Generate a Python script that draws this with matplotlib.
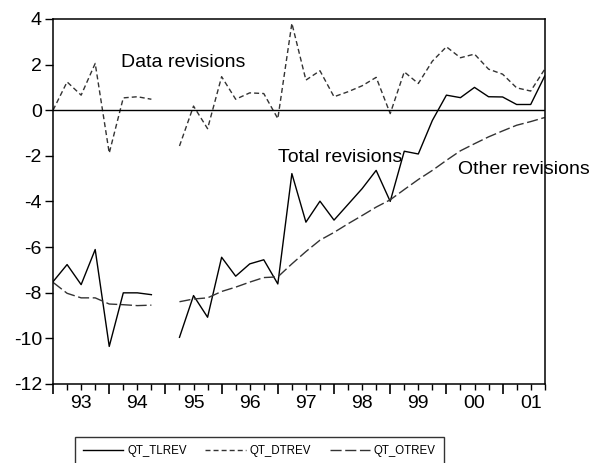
import numpy as np
import matplotlib
matplotlib.use('Agg')
import matplotlib.pyplot as plt

plt.rcParams['font.family'] = ['Liberation Sans', 'DejaVu Sans']
plt.rcParams['axes.unicode_minus'] = False

# quarterly data 1993Q1 - 2001Q4 (1995Q1 missing)
years = ['93', '94', '95', '96', '97', '98', '99', '00', '01']
nan = np.nan
qt_tlrev = [-7.52, -6.77, -7.65, -6.11, -10.36, -8.01, -8.01, -8.09, nan,
            -9.96, -8.13, -9.08, -6.45, -7.28, -6.74, -6.56, -7.62, -2.78,
            -4.91, -3.99, -4.82, -4.13, -3.44, -2.64, -4.00, -1.80, -1.92,
            -0.45, 0.66, 0.55, 1.00, 0.59, 0.58, 0.25, 0.25, 1.50]
qt_dtrev = [0.00, 1.24, 0.66, 2.05, -1.88, 0.54, 0.59, 0.48, nan,
            -1.57, 0.18, -0.81, 1.47, 0.48, 0.76, 0.73, -0.37, 3.81,
            1.32, 1.73, 0.59, 0.81, 1.07, 1.44, -0.15, 1.68, 1.17,
            2.15, 2.78, 2.30, 2.46, 1.80, 1.58, 0.98, 0.84, 1.80]
qt_otrev = [-7.55, -8.03, -8.23, -8.23, -8.50, -8.53, -8.57, -8.55, nan,
            -8.40, -8.28, -8.23, -7.95, -7.76, -7.54, -7.34, -7.31, -6.74,
            -6.20, -5.70, -5.36, -4.98, -4.62, -4.25, -3.93, -3.48, -3.04,
            -2.64, -2.20, -1.78, -1.47, -1.17, -0.91, -0.66, -0.50, -0.32]

x = np.arange(len(qt_tlrev))

fig = plt.figure(figsize=(5.96, 4.63), dpi=100)
ax = fig.add_axes([0.089, 0.171, 0.825, 0.788])

ax.plot(x, qt_tlrev, color='black', lw=1.0, label='QT_TLREV')
ax.plot(x, qt_dtrev, color='#333333', lw=1.0, dashes=(3.6, 2.2), label='QT_DTREV')
ax.plot(x, qt_otrev, color='#333333', lw=1.0, dashes=(8, 2.6), label='QT_OTREV')
ax.axhline(0, color='black', lw=1.0)

ax.set_xlim(0, len(x) - 1)
ax.set_ylim(-12, 4)
ax.set_yticks(np.arange(-12, 5, 2))

# year boundaries as major ticks, quarters as minor ticks, labels mid-year
ax.set_xticks(np.arange(0, len(x), 4), labels=[''] * len(range(0, len(x), 4)))
qlabels = ['' for _ in x]
for i, y in enumerate(years):
    qlabels[4 * i + 2] = y
ax.set_xticks(x, labels=qlabels, minor=True)
ax.tick_params(axis='x', which='major', direction='out', length=7, width=1.2)
ax.tick_params(axis='x', which='minor', direction='out', length=4, width=1.0,
               labelsize=14, pad=4)
ax.tick_params(axis='y', direction='out', length=6, width=1.0, labelsize=14, pad=2)
for s in ax.spines.values():
    s.set_linewidth(1.1)

ax.text(4.86, 2.1, 'Data revisions', fontsize=14, va='center', ha='left')
ax.text(16.0, -2.07, 'Total revisions', fontsize=14, va='center', ha='left')
ax.text(28.86, -2.6, 'Other revisions', fontsize=14, va='center', ha='left')

leg = fig.legend(loc='upper left', bbox_to_anchor=(75 / 596, 1 - 437 / 463),
                 ncol=3, fontsize=8.3, frameon=True, fancybox=False,
                 edgecolor='black', handlelength=3.5, handletextpad=0.35,
                 columnspacing=1.6, borderpad=0.7, borderaxespad=0)
leg.get_frame().set_linewidth(1.0)

fig.savefig('out.png', dpi=100)
